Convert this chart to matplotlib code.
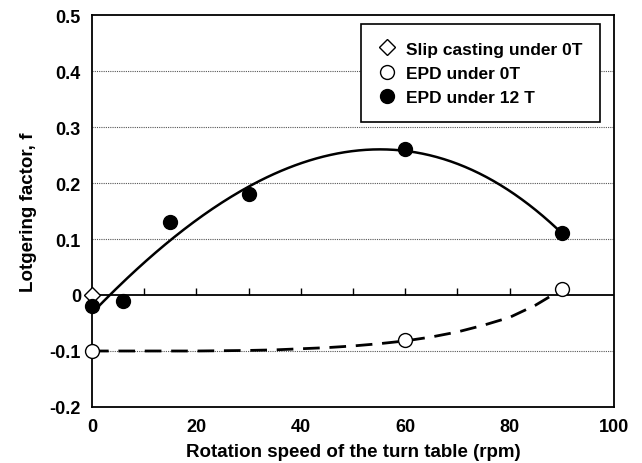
#!/usr/bin/env python3
"""
Lotgering factor vs rotation speed of the turn table.
"""

import matplotlib
matplotlib.use("Agg")
import matplotlib.pyplot as plt
import numpy as np
from matplotlib.ticker import FuncFormatter, MultipleLocator

plt.rcParams["font.family"] = ["Liberation Sans", "DejaVu Sans"]
plt.rcParams["font.weight"] = "bold"

# Data
SLIP_X = [0]
SLIP_Y = [0.0]

EPD0_X = [0, 60, 90]
EPD0_Y = [-0.10, -0.081, 0.01]

EPD12_X = [0, 6, 15, 30, 60, 90]
EPD12_Y = [-0.02, -0.01, 0.13, 0.18, 0.26, 0.11]

# dashed guide line for EPD under 0T
GUIDE0_X = [0, 10, 20, 30, 35, 40, 45, 50, 55, 60, 65, 70, 75, 80, 85, 90]
GUIDE0_Y = [-0.100, -0.100, -0.100, -0.099, -0.098, -0.096, -0.094, -0.091,
            -0.087, -0.082, -0.075, -0.066, -0.054, -0.040, -0.018, 0.01]

X_TICKS = [0, 20, 40, 60, 80, 100]
ZERO_TICKS = [10, 20, 30, 40, 50, 60, 70, 80, 90]
GRID_Y = [-0.1, 0.1, 0.2, 0.3, 0.4]


def yfmt(v, _pos):
    if abs(v) < 1e-9:
        return "0"
    return f"{v:.1f}"


def main() -> None:
    fig = plt.figure(figsize=(6.42, 4.64), dpi=100)
    ax = fig.add_axes([0.1433, 0.1207, 0.8131, 0.8448])

    # horizontal dotted grid
    for g in GRID_Y:
        ax.axhline(g, color="#555555", linewidth=0.8, linestyle=(0, (1, 1)), zorder=1)

    # zero line with small upward ticks
    ax.axhline(0, color="black", linewidth=1.3, zorder=2)
    ax.vlines(ZERO_TICKS, 0, 0.012, color="black", linewidth=1.0, zorder=2)

    # trend for EPD under 12 T (cubic polynomial fit)
    coef = np.polyfit(EPD12_X, EPD12_Y, 3)
    xs = np.linspace(0, 90, 200)
    ax.plot(xs, np.polyval(coef, xs), color="black", linewidth=1.8, zorder=3)

    # dashed guide for EPD under 0T
    ax.plot(GUIDE0_X, GUIDE0_Y, color="black", linewidth=2.0,
            linestyle=(0, (6, 3.5)), zorder=3)

    ax.plot(SLIP_X, SLIP_Y, linestyle="none", marker="D", markersize=8.5,
            markerfacecolor="white", markeredgecolor="black", markeredgewidth=1.0,
            label="Slip casting under 0T", zorder=4, clip_on=False)
    ax.plot(EPD0_X, EPD0_Y, linestyle="none", marker="o", markersize=10,
            markerfacecolor="white", markeredgecolor="black", markeredgewidth=1.0,
            label="EPD under 0T", zorder=4, clip_on=False)
    ax.plot(EPD12_X, EPD12_Y, linestyle="none", marker="o", markersize=10,
            markerfacecolor="black", markeredgecolor="black",
            label="EPD under 12 T", zorder=5, clip_on=False)

    ax.set_xlim(0, 100)
    ax.set_ylim(-0.2, 0.5)
    ax.set_xticks(X_TICKS)
    ax.yaxis.set_major_locator(MultipleLocator(0.1))
    ax.yaxis.set_major_formatter(FuncFormatter(yfmt))
    ax.tick_params(length=0, labelsize=13, pad=8)
    for lab in ax.get_xticklabels() + ax.get_yticklabels():
        lab.set_fontweight("bold")

    for sp in ax.spines.values():
        sp.set_linewidth(1.3)

    ax.set_xlabel("Rotation speed of the turn table (rpm)", fontsize=13.5,
                  fontweight="bold", labelpad=6)
    ax.set_ylabel("Lotgering factor, f", fontsize=13.5, fontweight="bold", labelpad=9)

    leg = ax.legend(loc="upper right", bbox_to_anchor=(0.973, 0.977), borderaxespad=0,
                    fontsize=12.5, frameon=True, fancybox=False, edgecolor="black",
                    framealpha=1, handletextpad=0.6, labelspacing=0.52,
                    borderpad=1.0, handlelength=1.0)
    leg.get_frame().set_linewidth(1.2)
    for t in leg.get_texts():
        t.set_fontweight("bold")

    fig.savefig("out.png", dpi=100)
    plt.close(fig)


if __name__ == "__main__":
    main()
